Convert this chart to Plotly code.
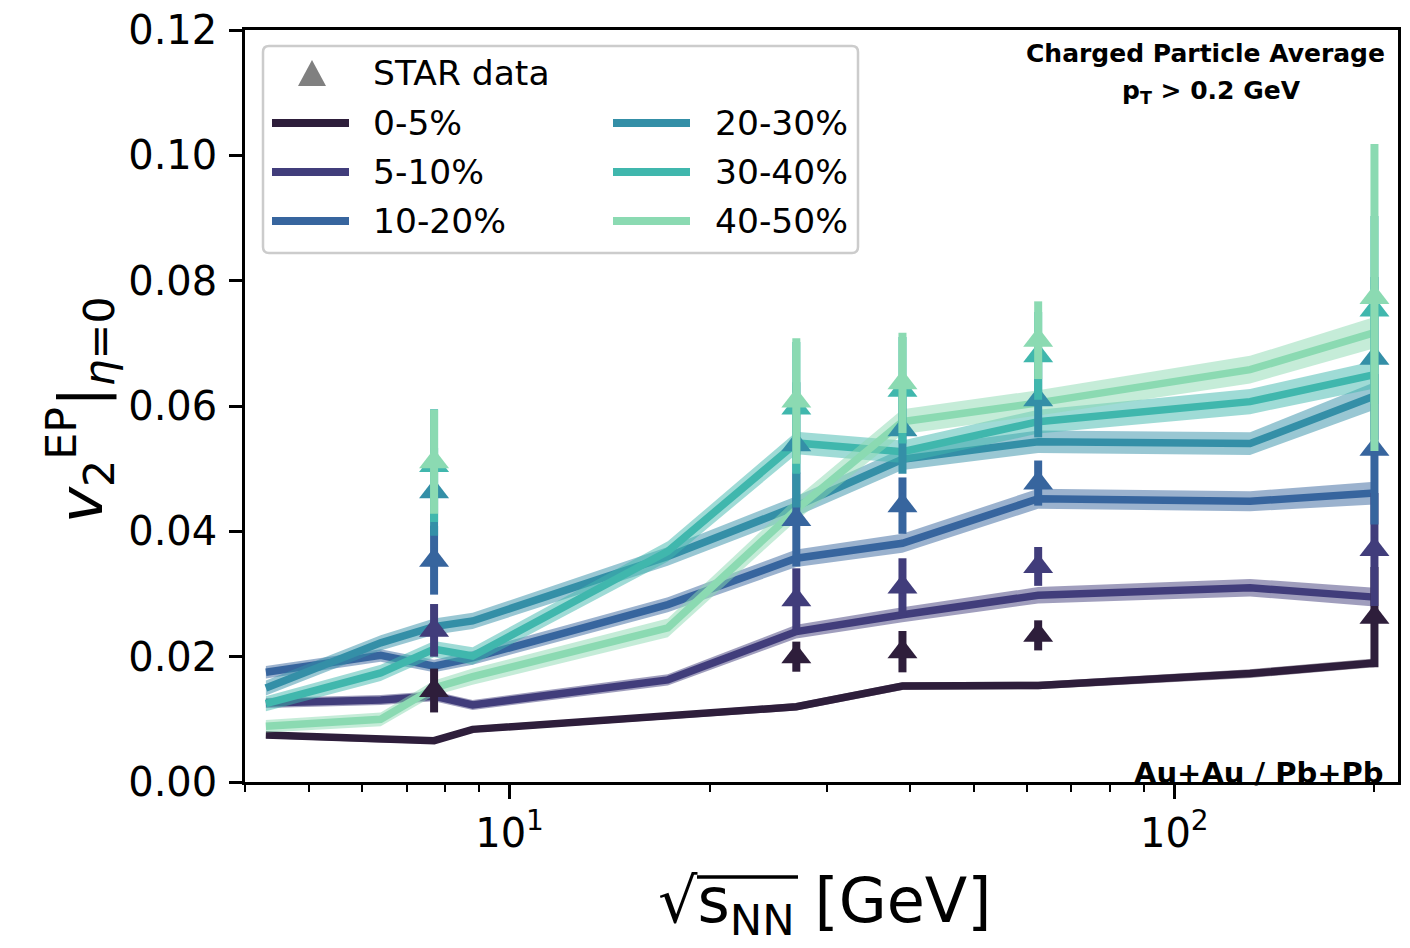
import math
import plotly.graph_objects as go

# ---------------- data ----------------
energies_model = [4.3, 6.4, 7.7, 8.8, 17.3, 27, 39, 62.4, 130, 200]
centralities = ["0-5%", "5-10%", "10-20%", "20-30%", "30-40%", "40-50%"]

v2_0_5   = [0.0075, 0.0068, 0.0066, 0.0084, 0.0105, 0.0120, 0.0153, 0.0154, 0.0173, 0.0190]
v2_5_10  = [0.0126, 0.0131, 0.0137, 0.0123, 0.0163, 0.0240, 0.0267, 0.0298, 0.0310, 0.0295]
v2_10_20 = [0.0175, 0.0202, 0.0185, 0.0198, 0.0283, 0.0357, 0.0381, 0.0452, 0.0448, 0.0461]
v2_20_30 = [0.0150, 0.0222, 0.0248, 0.0257, 0.0360, 0.0440, 0.0515, 0.0543, 0.0540, 0.0616]
v2_30_40 = [0.0125, 0.0174, 0.0212, 0.0201, 0.0368, 0.0541, 0.0527, 0.0575, 0.0607, 0.0650]
v2_40_50 = [0.0089, 0.0100, 0.0150, 0.0168, 0.0246, 0.0435, 0.0575, 0.0605, 0.0658, 0.0717]

band_0_5   = [0.0005, 0.0005, 0.0005, 0.0005, 0.0005, 0.0006, 0.0006, 0.0006, 0.0007, 0.0007]
band_5_10  = [0.0008, 0.0008, 0.0008, 0.0008, 0.0009, 0.0011, 0.0012, 0.0013, 0.0014, 0.0015]
band_10_20 = [0.0010, 0.0010, 0.0010, 0.0011, 0.0012, 0.0014, 0.0015, 0.0016, 0.0016, 0.0018]
band_20_30 = [0.0012, 0.0012, 0.0013, 0.0013, 0.0015, 0.0016, 0.0017, 0.0018, 0.0018, 0.0022]
band_30_40 = [0.0012, 0.0013, 0.0013, 0.0014, 0.0016, 0.0018, 0.0018, 0.0019, 0.0020, 0.0022]
band_40_50 = [0.0010, 0.0011, 0.0012, 0.0013, 0.0015, 0.0018, 0.0020, 0.0020, 0.0022, 0.0025]

energies_star = [7.7, 27, 39, 62.4, 200]
star_0_5   = [0.0146, 0.0200, 0.0208, 0.0234, 0.0263]
star_5_10  = [0.0242, 0.0291, 0.0311, 0.0344, 0.0371]
star_10_20 = [0.0354, 0.0419, 0.0441, 0.0477, 0.0531]
star_20_30 = [0.0463, 0.0538, 0.0562, 0.0610, 0.0676]
star_30_40 = [0.0505, 0.0597, 0.0625, 0.0680, 0.0753]
star_40_50 = [0.0511, 0.0608, 0.0637, 0.0705, 0.0773]

err_0_5   = [0.0035, 0.0024, 0.0033, 0.0024, 0.0080]
err_5_10  = [0.0042, 0.0050, 0.0046, 0.0031, 0.0090]
err_10_20 = [0.0055, 0.0075, 0.0045, 0.0036, 0.0120]
err_20_30 = [0.0070, 0.0100, 0.0070, 0.0060, 0.0130]
err_30_40 = [0.0090, 0.0105, 0.0085, 0.0070, 0.0150]
err_40_50 = [0.0083, 0.0100, 0.0080, 0.0062, 0.0245]

x_tick_vals = [10, 100]
x_tick_text = ["10<sup>1</sup>", "10<sup>2</sup>"]
x_minor_vals = [4, 5, 6, 7, 8, 9, 20, 30, 40, 50, 60, 70, 80, 90, 200]
y_tick_vals = [0.00, 0.02, 0.04, 0.06, 0.08, 0.10, 0.12]

colors = ["#2e1e3b", "#413d7b", "#37659e", "#348fa7", "#40b7ad", "#8bdab2"]

model = [v2_0_5, v2_5_10, v2_10_20, v2_20_30, v2_30_40, v2_40_50]
bands = [band_0_5, band_5_10, band_10_20, band_20_30, band_30_40, band_40_50]
star = [star_0_5, star_5_10, star_10_20, star_20_30, star_30_40, star_40_50]
star_err = [err_0_5, err_5_10, err_10_20, err_20_30, err_30_40, err_40_50]

FONT = "DejaVu Sans"

def rgba(hexc, a):
    h = hexc.lstrip("#")
    r, g, b = int(h[0:2], 16), int(h[2:4], 16), int(h[4:6], 16)
    return f"rgba({r},{g},{b},{a})"

fig = go.Figure()

# model bands + lines
for c, y, e, col in zip(centralities, model, bands, colors):
    up = [a + b for a, b in zip(y, e)]
    lo = [a - b for a, b in zip(y, e)]
    fig.add_trace(go.Scatter(x=energies_model, y=up, mode="lines",
                             line=dict(width=0, color=col), showlegend=False,
                             hoverinfo="skip"))
    fig.add_trace(go.Scatter(x=energies_model, y=lo, mode="lines",
                             line=dict(width=0, color=col), fill="tonexty",
                             fillcolor=rgba(col, 0.5), showlegend=False,
                             hoverinfo="skip"))
    fig.add_trace(go.Scatter(x=energies_model, y=y, mode="lines", name=c,
                             line=dict(width=7.5, color=col), showlegend=False))

# STAR data
for c, y, e, col in zip(centralities, star, star_err, colors):
    fig.add_trace(go.Scatter(x=energies_star, y=y, mode="markers",
                             name="STAR " + c,
                             marker=dict(symbol="triangle-up", size=26, color=col,
                                         line=dict(width=0)),
                             error_y=dict(type="data", array=e, visible=True,
                                          color=col, thickness=8, width=0),
                             showlegend=False))

# ------------- layout -------------
W, H = 1410, 948
PL, PR, PT, PB = 245, 1398, 30, 782

def pxx(x):
    return (x - PL) / (PR - PL)

def pyy(y):
    return (PB - y) / (PB - PT)

fig.update_layout(
    width=W, height=H,
    margin=dict(l=PL, r=W - PR, t=PT, b=H - PB, pad=0, autoexpand=False),
    paper_bgcolor="white", plot_bgcolor="white",
    font=dict(family=FONT, color="black"),
    showlegend=False,
)

fig.update_xaxes(
    type="log", range=[math.log10(4), math.log10(217)], automargin=False,
    tickmode="array", tickvals=x_tick_vals, ticktext=x_tick_text,
    ticks="outside", ticklen=14, tickwidth=2.5, tickcolor="black",
    tickfont=dict(size=40, family=FONT, color="black"),
    ticklabelstandoff=0,
    showline=True, linewidth=2.5, linecolor="black", mirror=True,
    showgrid=False, zeroline=False,
    minor=dict(tickmode="array", tickvals=x_minor_vals, ticks="outside",
               ticklen=7, tickwidth=2, tickcolor="black", showgrid=False),
)
fig.update_yaxes(
    range=[0, 0.12], tickmode="array", tickvals=y_tick_vals, tickformat=".2f",
    automargin=False,
    ticks="outside", ticklen=13, tickwidth=2.5, tickcolor="black",
    tickfont=dict(size=40, family=FONT, color="black"),
    ticklabelstandoff=4,
    showline=True, linewidth=2.5, linecolor="black", mirror=True,
    showgrid=False, zeroline=False,
)

shapes = []
# legend box (rounded)
x0, x1, y0, y1 = pxx(263), pxx(858), pyy(46), pyy(253)
rx = 6 / (PR - PL)
ry = 6 / (PB - PT)
path = (f"M {x0+rx},{y0} L {x1-rx},{y0} Q {x1},{y0} {x1},{y0-ry} "
        f"L {x1},{y1+ry} Q {x1},{y1} {x1-rx},{y1} L {x0+rx},{y1} "
        f"Q {x0},{y1} {x0},{y1+ry} L {x0},{y0-ry} Q {x0},{y0} {x0+rx},{y0} Z")
shapes.append(dict(type="path", xref="paper", yref="paper", path=path,
                   line=dict(color="#cccccc", width=2.5),
                   fillcolor="rgba(255,255,255,0.8)", layer="above"))
# STAR triangle
tx, ty = 312, 73
tri = (f"M {pxx(tx-14)},{pyy(ty+13)} L {pxx(tx+14)},{pyy(ty+13)} "
       f"L {pxx(tx)},{pyy(ty-13)} Z")
shapes.append(dict(type="path", xref="paper", yref="paper", path=tri,
                   line=dict(width=0), fillcolor="#808080", layer="above"))

annotations = []
LEG_FS = 34.5
annotations.append(dict(x=pxx(371), y=pyy(73), xref="paper", yref="paper",
                        text="STAR data", showarrow=False, xanchor="left",
                        yanchor="middle", font=dict(size=LEG_FS, family=FONT, color="black")))
rows = [123, 172, 221]
for i, (c, col) in enumerate(zip(centralities, colors)):
    colx = 0 if i < 3 else 1
    ry_ = rows[i % 3]
    lx0, lx1, tx_ = (272, 349, 371) if colx == 0 else (613, 690, 713)
    shapes.append(dict(type="line", xref="paper", yref="paper",
                       x0=pxx(lx0), x1=pxx(lx1), y0=pyy(ry_), y1=pyy(ry_),
                       line=dict(color=col, width=8), layer="above"))
    annotations.append(dict(x=pxx(tx_), y=pyy(ry_), xref="paper", yref="paper",
                            text=c, showarrow=False, xanchor="left", yanchor="middle",
                            font=dict(size=LEG_FS, family=FONT, color="black")))

# info text
annotations.append(dict(x=pxx(1205), y=pyy(53), xref="paper", yref="paper",
                        text="<b>Charged Particle Average</b>", showarrow=False,
                        xanchor="center", yanchor="middle",
                        font=dict(size=25, family=FONT, color="black")))
annotations.append(dict(x=pxx(1211), y=pyy(92), xref="paper", yref="paper",
                        text="<b>p<sub>T</sub> &gt; 0.2 GeV</b>", showarrow=False,
                        xanchor="center", yanchor="middle",
                        font=dict(size=25, family=FONT, color="black")))
annotations.append(dict(x=pxx(1386), y=pyy(773), xref="paper", yref="paper",
                        text="<b>Au+Au / Pb+Pb</b>", showarrow=False,
                        xanchor="right", yanchor="middle",
                        font=dict(size=29, family=FONT, color="black")))
# axis titles
annotations.append(dict(x=pxx(824), y=pyy(905), xref="paper", yref="paper",
                        text="\u221as<sub>NN</sub> [GeV]",
                        showarrow=False, xanchor="center", yanchor="middle",
                        font=dict(size=62, family=FONT, color="black")))
# overline of the square root
shapes.append(dict(type="line", xref="paper", yref="paper",
                   x0=pxx(697), x1=pxx(798), y0=pyy(877), y1=pyy(877),
                   line=dict(color="black", width=3.5), layer="above"))
annotations.append(dict(x=pxx(80), y=pyy(410), xref="paper", yref="paper",
                        text="<i>v</i><sub>2</sub><sup>EP</sup>|<sub><i>\u03b7</i>=0</sub>",
                        textangle=-90, showarrow=False, xanchor="center", yanchor="middle",
                        font=dict(size=61, family=FONT, color="black")))

fig.update_layout(shapes=shapes, annotations=annotations)
fig.write_html("out.html")
